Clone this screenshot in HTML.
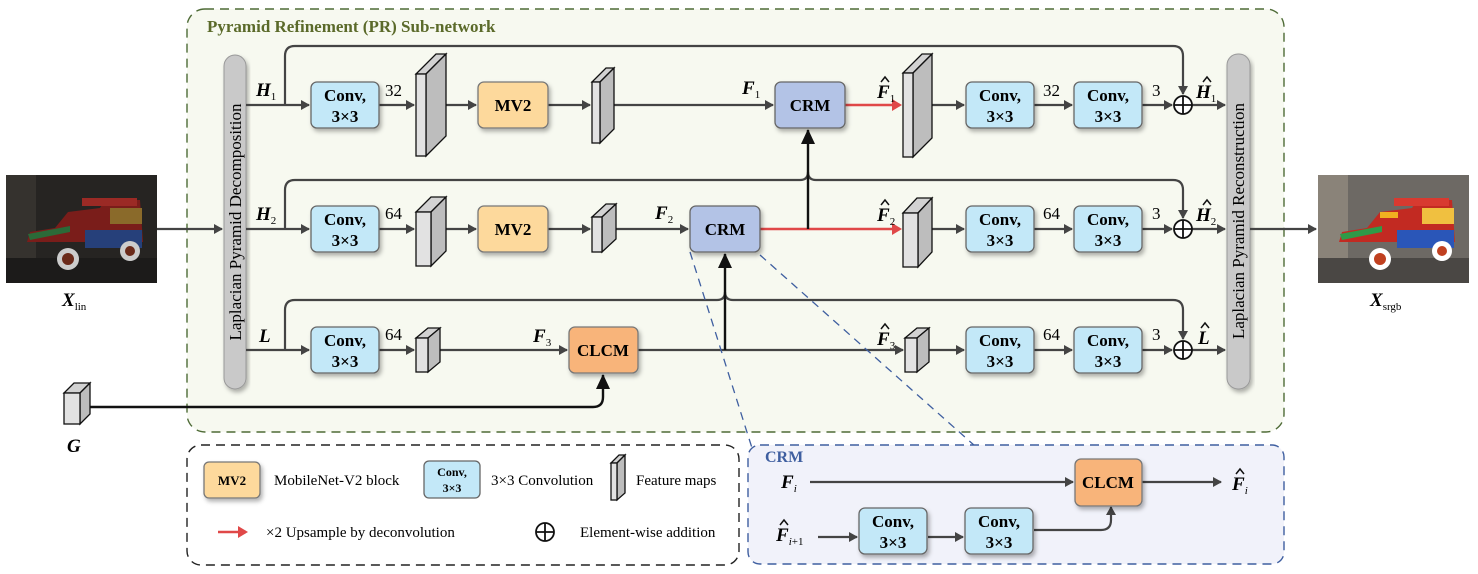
<!DOCTYPE html>
<html><head><meta charset="utf-8"><style>
html,body{margin:0;padding:0;background:#fff;}
svg{display:block;font-family:"Liberation Serif",serif;}
.t{font-size:17px;font-weight:bold;text-anchor:middle;}
.n{font-size:17px;}
.l{fill:none;stroke:#444;stroke-width:2.2;}
.k{fill:none;stroke:#111;stroke-width:2.4;}
.conv{fill:#c3e8f8;stroke:#666;stroke-width:1.3;}
.mv{fill:#fdd99c;stroke:#777;stroke-width:1.3;}
.crm{fill:#b3c3e6;stroke:#666;stroke-width:1.3;}
.cl{fill:#f8b47a;stroke:#777;stroke-width:1.3;}
.fm{fill:#e2e2e2;stroke:#111;stroke-width:1.3;}
.fs{fill:#bdbdbd;stroke:#111;stroke-width:1.3;}
.ft{fill:#d2d2d2;stroke:#111;stroke-width:1.3;}
.v{font-style:italic;font-weight:bold;font-size:19px;}
.s{font-size:11px;font-weight:normal;}
.h{fill:none;stroke:#111;stroke-width:1.5;}
</style></head><body>
<svg width="1478" height="574" viewBox="0 0 1478 574">
<defs>
<marker id="a" markerWidth="10" markerHeight="10" refX="8" refY="5" orient="auto" markerUnits="userSpaceOnUse"><path d="M0,0 L9,5 L0,10 z" fill="#444"/></marker>
<marker id="ab" markerWidth="16" markerHeight="16" refX="14" refY="8" orient="auto" markerUnits="userSpaceOnUse"><path d="M0,1 L15,8 L0,15 z" fill="#111"/></marker>
<marker id="ar" markerWidth="10" markerHeight="12" refX="8" refY="6" orient="auto" markerUnits="userSpaceOnUse"><path d="M0,0 L10,6 L0,12 z" fill="#e04848"/></marker>
<filter id="sh" x="-20%" y="-20%" width="140%" height="150%"><feDropShadow dx="2" dy="3" stdDeviation="2" flood-opacity="0.3"/></filter>
<g id="conv"><rect class="conv" x="0" y="0" width="68" height="46" rx="6" filter="url(#sh)"/><text class="t" x="34" y="19">Conv,</text><text class="t" x="34" y="40">3×3</text></g>
<g id="plus"><circle cx="0" cy="0" r="9" fill="#fff" stroke="#111" stroke-width="1.8"/><path d="M-9,0 H9 M0,-9 V9" stroke="#111" stroke-width="1.8"/></g>
</defs>

<rect x="187" y="9" width="1097" height="423" rx="18" fill="#f7f9f0" stroke="#4e6b36" stroke-width="1.4" stroke-dasharray="9,6"/>
<text x="207" y="32" font-size="17" font-weight="bold" fill="#5b6a2a">Pyramid Refinement (PR) Sub-network</text>

<rect x="224" y="55" width="22" height="334" rx="11" fill="#c9c9c9" stroke="#999" filter="url(#sh)"/>
<text transform="translate(241,222) rotate(-90)" font-size="17" text-anchor="middle">Laplacian Pyramid Decomposition</text>
<rect x="1227" y="54" width="23" height="335" rx="11" fill="#c9c9c9" stroke="#999" filter="url(#sh)"/>
<text transform="translate(1244,221) rotate(-90)" font-size="17" text-anchor="middle">Laplacian Pyramid Reconstruction</text>

<path class="l" d="M285,105 V56 Q285,46 295,46 H1173 Q1183,46 1183,56 V94" marker-end="url(#a)"/>
<path class="l" d="M285,229 V190 Q285,180 295,180 H800 Q808,180 808,172 Q808,180 816,180 H1173 Q1183,180 1183,190 V218" marker-end="url(#a)"/>
<path class="l" d="M285,350 V310 Q285,300 295,300 H717 Q725,300 725,292 Q725,300 733,300 H1173 Q1183,300 1183,310 V339" marker-end="url(#a)"/>

<g class="l">
<path d="M157,229 H222" marker-end="url(#a)"/>
<path d="M246,105 H309" marker-end="url(#a)"/><path d="M246,229 H309" marker-end="url(#a)"/><path d="M246,350 H309" marker-end="url(#a)"/>
<path d="M378,105 H414" marker-end="url(#a)"/><path d="M378,229 H414" marker-end="url(#a)"/><path d="M378,350 H414" marker-end="url(#a)"/>
<path d="M436,105 H476" marker-end="url(#a)"/><path d="M436,229 H476" marker-end="url(#a)"/>
<path d="M548,105 H590" marker-end="url(#a)"/><path d="M548,229 H590" marker-end="url(#a)"/>
<path d="M608,105 H773" marker-end="url(#a)"/><path d="M608,229 H688" marker-end="url(#a)"/>
<path d="M434,350 H567" marker-end="url(#a)"/>
<path d="M638,350 H903" marker-end="url(#a)"/>
<path d="M920,105 H964" marker-end="url(#a)"/><path d="M922,229 H964" marker-end="url(#a)"/><path d="M922,350 H964" marker-end="url(#a)"/>
<path d="M1034,105 H1072" marker-end="url(#a)"/><path d="M1034,229 H1072" marker-end="url(#a)"/><path d="M1034,350 H1072" marker-end="url(#a)"/>
<path d="M1142,105 H1172" marker-end="url(#a)"/><path d="M1142,229 H1172" marker-end="url(#a)"/><path d="M1142,350 H1172" marker-end="url(#a)"/>
<path d="M1192,105 H1225" marker-end="url(#a)"/><path d="M1192,229 H1225" marker-end="url(#a)"/><path d="M1192,350 H1225" marker-end="url(#a)"/>
<path d="M1250,229 H1316" marker-end="url(#a)"/>
</g>
<path d="M845,105 H900" stroke="#e04848" stroke-width="2.4" fill="none" marker-end="url(#ar)"/>
<path d="M760,229 H900" stroke="#e04848" stroke-width="2.4" fill="none" marker-end="url(#ar)"/>
<path class="k" d="M808,229 V130" marker-end="url(#ab)"/>
<path class="k" d="M725,350 V254" marker-end="url(#ab)"/>
<path class="k" d="M90,407 H593 Q603,407 603,397 V375" marker-end="url(#ab)"/>

<path d="M690,252 L752,448 M760,255 L975,446" stroke="#3f5fa0" stroke-width="1.3" stroke-dasharray="8,6" fill="none"/>

<use href="#conv" x="311" y="82"/><use href="#conv" x="311" y="206"/><use href="#conv" x="311" y="327"/>
<use href="#conv" x="966" y="82"/><use href="#conv" x="966" y="206"/><use href="#conv" x="966" y="327"/>
<use href="#conv" x="1074" y="82"/><use href="#conv" x="1074" y="206"/><use href="#conv" x="1074" y="327"/>

<rect class="mv" x="478" y="82" width="70" height="46" rx="6" filter="url(#sh)"/><text class="t" x="513" y="111">MV2</text>
<rect class="mv" x="478" y="206" width="70" height="46" rx="6" filter="url(#sh)"/><text class="t" x="513" y="235">MV2</text>
<rect class="crm" x="775" y="82" width="70" height="46" rx="6" filter="url(#sh)"/><text class="t" x="810" y="111">CRM</text>
<rect class="crm" x="690" y="206" width="70" height="46" rx="6" filter="url(#sh)"/><text class="t" x="725" y="235">CRM</text>
<rect class="cl" x="569" y="327" width="69" height="46" rx="6" filter="url(#sh)"/><text class="t" x="603" y="356">CLCM</text>

<g>
<polygon class="ft" points="416,74 426,74 446,54 436,54"/><polygon class="fs" points="426,74 446,54 446,136 426,156"/><rect class="fm" x="416" y="74" width="10" height="82"/>
<polygon class="ft" points="592,82 600,82 614,68 606,68"/><polygon class="fs" points="600,82 614,68 614,129 600,143"/><rect class="fm" x="592" y="82" width="8" height="61"/>
<polygon class="ft" points="903,73 913,73 932,54 922,54"/><polygon class="fs" points="913,73 932,54 932,138 913,157"/><rect class="fm" x="903" y="73" width="10" height="84"/>
<polygon class="ft" points="416,212 431,212 446,197 431,197"/><polygon class="fs" points="431,212 446,197 446,251 431,266"/><rect class="fm" x="416" y="212" width="15" height="54"/>
<polygon class="ft" points="592,217 602,217 616,204 606,204"/><polygon class="fs" points="602,217 616,204 616,239 602,252"/><rect class="fm" x="592" y="217" width="10" height="35"/>
<polygon class="ft" points="903,213 918,213 932,198 917,198"/><polygon class="fs" points="918,213 932,198 932,252 918,267"/><rect class="fm" x="903" y="213" width="15" height="54"/>
<polygon class="ft" points="416,338 428,338 440,328 428,328"/><polygon class="fs" points="428,338 440,328 440,362 428,372"/><rect class="fm" x="416" y="338" width="12" height="34"/>
<polygon class="ft" points="905,338 917,338 929,328 917,328"/><polygon class="fs" points="917,338 929,328 929,362 917,372"/><rect class="fm" x="905" y="338" width="12" height="34"/>
<polygon class="ft" points="64,393 80,393 90,383 74,383"/><polygon class="fs" points="80,393 90,383 90,414 80,424"/><rect class="fm" x="64" y="393" width="16" height="31"/>
</g>

<use href="#plus" x="1183" y="105"/><use href="#plus" x="1183" y="229"/><use href="#plus" x="1183" y="350"/>

<g class="n">
<text x="385" y="96">32</text><text x="385" y="219">64</text><text x="385" y="340">64</text>
<text x="1043" y="96">32</text><text x="1043" y="219">64</text><text x="1043" y="340">64</text>
<text x="1152" y="96">3</text><text x="1152" y="219">3</text><text x="1152" y="340">3</text>
</g>
<text class="v" x="256" y="96">H<tspan class="s" font-style="normal" dy="4">1</tspan></text>
<text class="v" x="256" y="220">H<tspan class="s" font-style="normal" dy="4">2</tspan></text>
<text class="v" x="259" y="342">L</text>
<text class="v" x="742" y="94">F<tspan class="s" font-style="normal" dy="4">1</tspan></text>
<text class="v" x="655" y="219">F<tspan class="s" font-style="normal" dy="4">2</tspan></text>
<text class="v" x="533" y="342">F<tspan class="s" font-style="normal" dy="4">3</tspan></text>
<text class="v" x="877" y="98">F<tspan class="s" font-style="normal" dy="4">1</tspan></text><path class="h" d="M881,82 L885,77 L889,82"/>
<text class="v" x="877" y="221">F<tspan class="s" font-style="normal" dy="4">2</tspan></text><path class="h" d="M881,205 L885,200 L889,205"/>
<text class="v" x="877" y="345">F<tspan class="s" font-style="normal" dy="4">3</tspan></text><path class="h" d="M881,329 L885,324 L889,329"/>
<text class="v" x="1196" y="98">H<tspan class="s" font-style="normal" dy="4">1</tspan></text><path class="h" d="M1203,82 L1207,77 L1211,82"/>
<text class="v" x="1196" y="221">H<tspan class="s" font-style="normal" dy="4">2</tspan></text><path class="h" d="M1203,205 L1207,200 L1211,205"/>
<text class="v" x="1198" y="344">L</text><path class="h" d="M1201,328 L1205,323 L1209,328"/>
<text class="v" x="67" y="452">G</text>
<text class="v" x="62" y="306">X<tspan class="s" font-style="normal" dy="4">lin</tspan></text>
<text class="v" x="1370" y="306">X<tspan class="s" font-style="normal" dy="4">srgb</tspan></text>

<g>
<rect x="6" y="175" width="151" height="108" fill="#262422"/>
<rect x="6" y="175" width="30" height="90" fill="#35322e"/>
<rect x="6" y="258" width="151" height="25" fill="#1c1b1a"/>
<path d="M27,242 L30,232 L55,228 L68,212 L100,208 L105,200 L140,200 L143,242 Z" fill="#7a1d1a"/>
<rect x="110" y="208" width="32" height="16" fill="#8a6a2a"/>
<path d="M28,234 L70,226 L70,232 L30,240 Z" fill="#2b6a38"/>
<rect x="85" y="230" width="57" height="18" fill="#26407a"/>
<rect x="82" y="198" width="55" height="8" fill="#9b2a25"/>
<circle cx="68" cy="259" r="11" fill="#ccc"/><circle cx="68" cy="259" r="6" fill="#6a2a1a"/>
<circle cx="130" cy="251" r="10" fill="#ccc"/><circle cx="130" cy="251" r="5" fill="#6a2a1a"/>
</g>
<g>
<rect x="1318" y="175" width="151" height="108" fill="#6d6964"/>
<rect x="1318" y="175" width="30" height="90" fill="#8a8379"/>
<rect x="1318" y="258" width="151" height="25" fill="#4a4744"/>
<path d="M1339,242 L1342,232 L1367,228 L1380,212 L1412,208 L1417,200 L1452,200 L1455,242 Z" fill="#c22a22"/>
<rect x="1422" y="208" width="32" height="16" fill="#f0c040"/>
<path d="M1340,234 L1382,226 L1382,232 L1342,240 Z" fill="#2f9a48"/>
<rect x="1397" y="230" width="57" height="18" fill="#2a56b8"/>
<rect x="1394" y="198" width="55" height="8" fill="#d83a30"/>
<rect x="1380" y="212" width="18" height="6" fill="#f0b020"/>
<circle cx="1380" cy="259" r="11" fill="#fff"/><circle cx="1380" cy="259" r="6" fill="#c04020"/>
<circle cx="1442" cy="251" r="10" fill="#fff"/><circle cx="1442" cy="251" r="5" fill="#c04020"/>
</g>

<rect x="187" y="445" width="552" height="120" rx="14" fill="#fff" stroke="#222" stroke-width="1.4" stroke-dasharray="9,6"/>
<rect class="mv" x="204" y="462" width="56" height="36" rx="5" filter="url(#sh)"/><text x="232" y="485" font-size="13" font-weight="bold" text-anchor="middle">MV2</text>
<text x="274" y="485" font-size="15">MobileNet-V2 block</text>
<rect class="conv" x="424" y="461" width="56" height="37" rx="5"/><text x="452" y="476" font-size="12" font-weight="bold" text-anchor="middle">Conv,</text><text x="452" y="492" font-size="12" font-weight="bold" text-anchor="middle">3×3</text>
<text x="491" y="485" font-size="15">3×3 Convolution</text>
<polygon class="ft" points="611,463 617,463 625,455 619,455"/><polygon class="fs" points="617,463 625,455 625,493 617,500"/><rect class="fm" x="611" y="463" width="6" height="37"/>
<text x="636" y="485" font-size="15">Feature maps</text>
<path d="M218,532 H246" stroke="#e04848" stroke-width="2.4" marker-end="url(#ar)"/>
<text x="266" y="537" font-size="15">×2 Upsample by deconvolution</text>
<use href="#plus" x="545" y="532"/>
<text x="580" y="537" font-size="15">Element-wise addition</text>

<rect x="748" y="445" width="536" height="119" rx="12" fill="#f1f2fa" stroke="#3f5fa0" stroke-width="1.4" stroke-dasharray="9,6"/>
<text x="765" y="462" font-size="16" font-weight="bold" fill="#3f5fa0">CRM</text>
<text class="v" x="781" y="488">F<tspan class="s" dy="4">i</tspan></text>
<text class="v" x="776" y="541">F<tspan class="s" font-style="italic" dy="4">i</tspan><tspan class="s" font-style="normal">+1</tspan></text><path class="h" d="M780,525 L784,520 L788,525"/>
<path class="l" d="M810,482 H1073" marker-end="url(#a)"/>
<path class="l" d="M1142,482 H1221" marker-end="url(#a)"/>
<path class="l" d="M818,537 H857" marker-end="url(#a)"/>
<path class="l" d="M928,537 H963" marker-end="url(#a)"/>
<path class="l" d="M1034,530 H1101 Q1111,530 1111,520 V507" marker-end="url(#a)"/>
<use href="#conv" x="859" y="508"/><use href="#conv" x="965" y="508"/>
<rect class="cl" x="1075" y="459" width="67" height="47" rx="6" filter="url(#sh)"/><text class="t" x="1108" y="488">CLCM</text>
<text class="v" x="1232" y="490">F<tspan class="s" dy="4">i</tspan></text><path class="h" d="M1236,474 L1240,469 L1244,474"/>
</svg>
</body></html>
